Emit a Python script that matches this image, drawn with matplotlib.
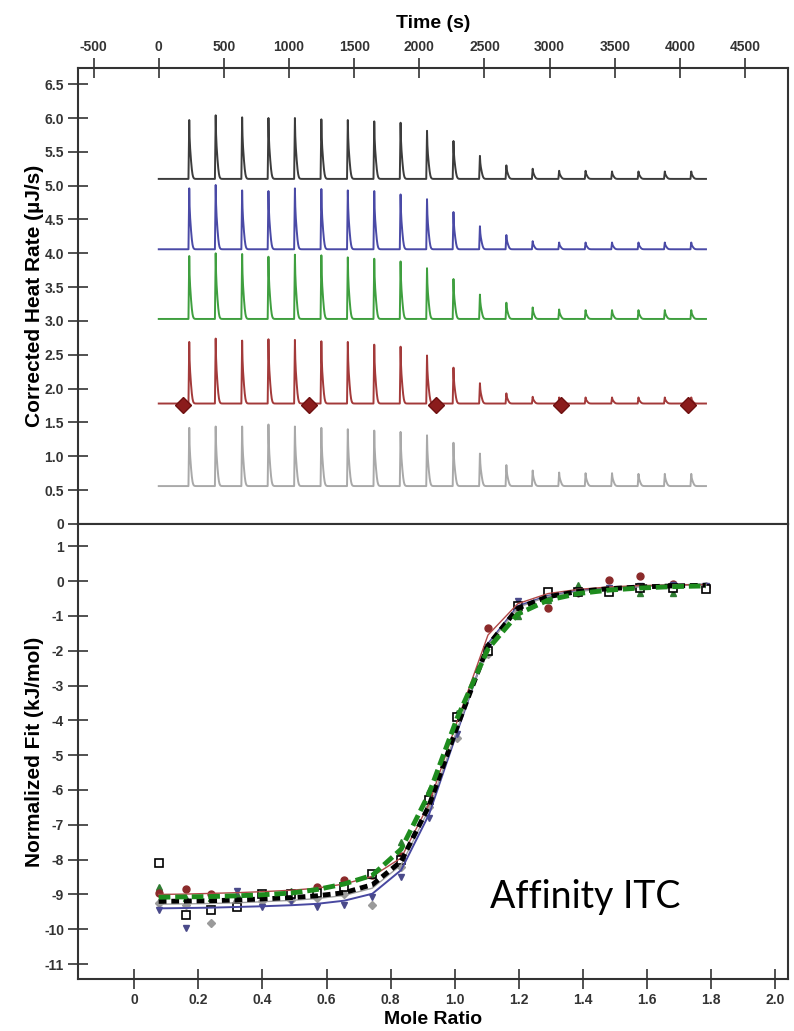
import numpy as np
import matplotlib.pyplot as plt

plt.rcParams['font.family'] = ['Liberation Sans', 'DejaVu Sans']
plt.rcParams['axes.unicode_minus'] = False

# ---- top panel: raw thermograms ----
inj_time = [234, 437, 640, 842, 1045, 1248, 1451, 1654, 1856, 2059,
            2262, 2465, 2668, 2870, 3073, 3276, 3479, 3682, 3884, 4087]
run_end = 4200

base_black = 5.10
base_blue = 4.06
base_green = 3.03
base_red = 1.78
base_gray = 0.56

peaks_black = [0.87, 0.94, 0.91, 0.90, 0.90, 0.88, 0.87, 0.85, 0.83, 0.71,
               0.56, 0.34, 0.20, 0.15, 0.12, 0.12, 0.11, 0.11, 0.11, 0.11]
peaks_blue = [0.90, 0.95, 0.87, 0.86, 0.90, 0.89, 0.87, 0.86, 0.81, 0.74,
              0.55, 0.34, 0.21, 0.12, 0.10, 0.10, 0.10, 0.10, 0.10, 0.10]
peaks_green = [0.93, 0.97, 0.96, 0.92, 0.95, 0.94, 0.91, 0.89, 0.85, 0.75,
               0.59, 0.36, 0.24, 0.17, 0.14, 0.13, 0.13, 0.13, 0.13, 0.13]
peaks_red = [0.91, 0.96, 0.93, 0.95, 0.94, 0.92, 0.91, 0.87, 0.84, 0.71,
             0.53, 0.30, 0.15, 0.10, 0.09, 0.09, 0.09, 0.09, 0.09, 0.09]
peaks_gray = [0.86, 0.88, 0.88, 0.91, 0.88, 0.86, 0.84, 0.82, 0.80, 0.75,
              0.64, 0.48, 0.31, 0.23, 0.20, 0.19, 0.19, 0.18, 0.18, 0.18]

marker_time = [188, 1155, 2130, 3090, 4065]

# ---- bottom panel: integrated heats ----
mole_ratio = [0.076, 0.16, 0.24, 0.32, 0.40, 0.49, 0.57, 0.655, 0.743, 0.833,
              0.92, 1.007, 1.104, 1.197, 1.291, 1.385, 1.481, 1.578, 1.681, 1.784]

fit_black = [-9.20, -9.19, -9.18, -9.16, -9.13, -9.09, -9.04, -8.95, -8.72, -8.05,
             -6.45, -4.20, -1.85, -0.78, -0.45, -0.30, -0.22, -0.17, -0.14, -0.12]
fit_green = [-9.08, -9.07, -9.06, -9.04, -9.01, -8.96, -8.86, -8.70, -8.45, -7.70,
             -6.10, -3.95, -1.95, -0.95, -0.55, -0.36, -0.26, -0.20, -0.16, -0.14]
fit_red = [-9.00, -8.99, -8.97, -8.95, -8.92, -8.88, -8.82, -8.70, -8.48, -7.95,
           -6.40, -4.05, -1.55, -0.65, -0.36, -0.24, -0.17, -0.13, -0.11, -0.10]
fit_blue = [-9.40, -9.39, -9.38, -9.36, -9.34, -9.31, -9.27, -9.18, -8.98, -8.30,
            -6.70, -4.35, -1.80, -0.72, -0.42, -0.28, -0.20, -0.15, -0.12, -0.10]
fit_gray = [-9.28, -9.27, -9.26, -9.24, -9.21, -9.17, -9.12, -9.03, -8.82, -8.15,
            -6.55, -4.28, -1.85, -0.76, -0.44, -0.30, -0.21, -0.16, -0.13, -0.11]

pts_square = [-8.10, -9.60, -9.45, -9.35, -9.00, -9.00, -8.95, -8.80, -8.40, -8.00,
              -6.30, -3.90, -2.00, -0.72, -0.31, -0.31, -0.31, -0.20, -0.20, -0.22]
pts_down = [-9.45, -9.95, -9.45, -8.90, -9.35, -9.20, -9.36, -9.30, -9.07, -8.50,
            -6.80, -4.40, -1.90, -0.58, -0.40, -0.28, -0.20, -0.15, -0.12, -0.15]
pts_up = [-8.80, -9.10, -9.10, -9.00, -9.00, -8.90, -8.78, -8.60, -8.45, -7.50,
          -6.00, -3.80, -2.00, -1.00, -0.55, -0.12, -0.25, -0.35, -0.35, -0.15]
pts_circle = [-8.95, -8.85, -9.00, -9.30, -9.00, -8.96, -8.80, -8.59, -8.45, -7.90,
              -6.20, -3.90, -1.36, -0.70, -0.78, -0.30, 0.03, 0.14, -0.09, -0.18]
pts_diamond = [-9.25, -9.30, -9.83, -9.20, -9.20, -9.15, -9.10, -9.00, -9.30, -8.20,
               -6.50, -4.50, -2.10, -0.90, -0.50, -0.35, -0.25, -0.20, -0.15, -0.15]


def thermogram(t, base, heights):
    # narrow injection spike on a short shoulder, then quick return to baseline
    y = np.full_like(t, base, dtype=float)
    for t0, h in zip(inj_time, heights):
        dt = t - t0
        rise = np.clip((dt + 6) / 6, 0, 1)
        decay = np.where(dt > 0, 0.45 * np.exp(-dt / 3) + 0.55 * np.exp(-(dt / 18) ** 2), 1.0)
        y += h * rise * decay
    return y


frame = '#333333'
tick_font = dict(family=['Liberation Sans Narrow', 'Liberation Sans'], weight='bold', size=10)

fig = plt.figure(figsize=(7.94, 10.31), dpi=100)
ax1 = fig.add_axes([0.0982, 0.4918, 0.894, 0.4423])
ax2 = fig.add_axes([0.0982, 0.0504, 0.894, 0.4414])

t = np.arange(0, run_end + 1, 1.0)
traces = [(base_black, peaks_black, '#3c3c3c'),
          (base_blue, peaks_blue, '#4a4aa6'),
          (base_green, peaks_green, '#3f9f3f'),
          (base_red, peaks_red, '#a33a3a'),
          (base_gray, peaks_gray, '#a9a9a9')]
for base, hts, col in traces:
    ax1.plot(t, thermogram(t, base, hts), color=col, lw=1.4)
ax1.plot(marker_time, [base_red - 0.02] * len(marker_time), ls='none', marker='D',
         ms=8.5, color='#8b1c1c', mec='#6e1010')

ax1.set_xlim(-620, 4828)
ax1.set_ylim(0, 6.74)
ax1.xaxis.tick_top()
ax1.xaxis.set_label_position('top')
ax1.set_xticks(np.arange(-500, 4501, 500))
ax1.set_yticks(np.arange(0, 6.51, 0.5))
ax1.set_yticklabels(['0'] + [f'{v:.1f}' for v in np.arange(0.5, 6.51, 0.5)])
ax1.set_xlabel('Time (s)', family=['Liberation Sans Narrow', 'Liberation Sans'],
               weight='bold', size=14, labelpad=9)
ax1.set_ylabel('Corrected Heat Rate (µJ/s)', weight='bold', size=15)
ax1.yaxis.set_label_coords(-0.048, 0.5)

# bottom panel: markers sit under the fit lines
ax2.plot(mole_ratio, pts_diamond, ls='none', marker='D', ms=4, color='#9a9a9a', zorder=1.5)
ax2.plot(mole_ratio, pts_up, ls='none', marker='^', ms=5, color='#2e7d32', zorder=1.5)
ax2.plot(mole_ratio, pts_circle, ls='none', marker='o', ms=5, color='#8b2a2a', zorder=1.5)
ax2.plot(mole_ratio, pts_down, ls='none', marker='v', ms=5, color='#4a4a8a', zorder=1.5)
ax2.plot(mole_ratio, pts_square, ls='none', marker='s', ms=5.5, mfc='white',
         mec='black', mew=1.2, zorder=1.6)

ax2.plot(mole_ratio, fit_blue, color='#4848a0', lw=1.4, zorder=2)
ax2.plot(mole_ratio, fit_gray, color='#a0a0a0', lw=1.0, zorder=2)
ax2.plot(mole_ratio, fit_red, color='#b04848', lw=1.0, zorder=3)
ax2.plot(mole_ratio, fit_black, color='black', lw=3.5, dashes=(1.6, 1.0), zorder=4)
ax2.plot(mole_ratio, fit_green, color='#1e8c1e', lw=3.5, dashes=(2.4, 1.0), zorder=5)

ax2.set_xlim(-0.176, 2.04)
ax2.set_ylim(-11.43, 1.64)
ax2.set_xticks(np.arange(0, 2.01, 0.2))
ax2.set_xticklabels(['0'] + [f'{v:.1f}' for v in np.arange(0.2, 2.01, 0.2)])
ax2.set_yticks(np.arange(-11, 1.1, 1))
ax2.set_yticklabels([f'{v:d}' for v in range(-11, 2)])
ax2.set_xlabel('Mole Ratio', family=['Liberation Sans Narrow', 'Liberation Sans'],
               weight='bold', size=14, labelpad=3)
ax2.set_ylabel('Normalized Fit (kJ/mol)', weight='bold', size=15)
ax2.yaxis.set_label_coords(-0.048, 0.5)
ax2.text(0.714, 0.18, 'Affinity ITC', transform=ax2.transAxes, ha='center', va='center',
         family=['Lato', 'DejaVu Sans'], size=27)

for ax in (ax1, ax2):
    for sp in ax.spines.values():
        sp.set_color(frame)
        sp.set_linewidth(1.5)
    ax.tick_params(direction='inout', length=14, width=1.2, color=frame, pad=3)
    for lab in ax.get_xticklabels() + ax.get_yticklabels():
        lab.set_fontproperties(tick_font)
        lab.set_color('#333333')

fig.savefig('out.png', dpi=100)
